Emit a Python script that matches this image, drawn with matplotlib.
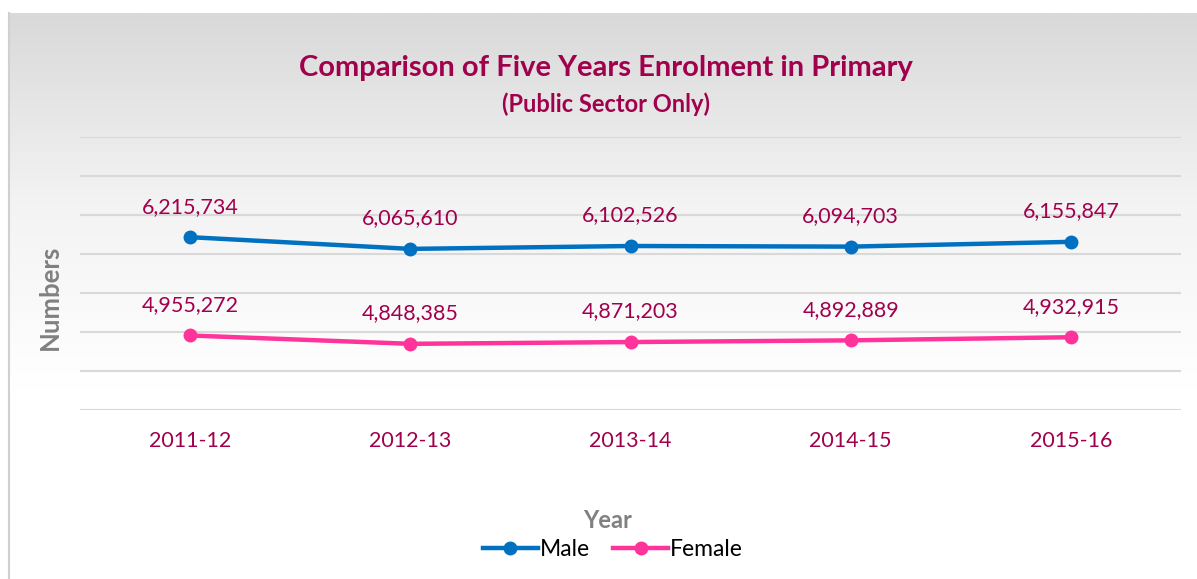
import numpy as np
import matplotlib
matplotlib.use("Agg")
import matplotlib.pyplot as plt
from matplotlib.colors import LinearSegmentedColormap

# data
years = ["2011-12", "2012-13", "2013-14", "2014-15", "2015-16"]
male = [6215734, 6065610, 6102526, 6094703, 6155847]
female = [4955272, 4848385, 4871203, 4892889, 4932915]

W, H = 1197, 579
label_color = "#A0004C"
plt.rcParams["font.family"] = ["Lato", "DejaVu Sans"]

fig = plt.figure(figsize=(W / 100, H / 100), dpi=100)
fig.patch.set_facecolor("white")

# chart area background with vertical gradient (grey at top -> white)
bg = fig.add_axes([9 / W, 0, 1 - 9 / W, 1 - 13 / H], zorder=0)
cmap = LinearSegmentedColormap.from_list("bg", ["#d9d9d9", "#f3f3f3", "#ffffff", "#ffffff"])
grad = np.linspace(0, 1, 256).reshape(-1, 1)
bg.imshow(grad, aspect="auto", cmap=cmap, extent=[0, 1, 0, 1], origin="upper")
bg.set_xlim(0, 1)
bg.set_ylim(0, 1)
bg.set_xticks([])
bg.set_yticks([])
for s in ["top", "right", "bottom"]:
    bg.spines[s].set_visible(False)
bg.spines["left"].set_color("#d0d0d0")
bg.spines["left"].set_linewidth(1.5)

# plot area
ax = fig.add_axes([80 / W, 1 - 410 / H, 1101 / W, 273 / H], zorder=1)
ax.set_facecolor("none")
x = np.arange(len(years))

ax.plot(x, male, color="#0070C0", lw=3.2, marker="o", ms=9, label="Male", zorder=3)
ax.plot(x, female, color="#FF3399", lw=3.2, marker="o", ms=9, label="Female", zorder=3)

for xi, v in zip(x, male):
    ax.annotate(f"{v:,}", (xi, v), xytext=(0, 22), textcoords="offset points",
                ha="center", va="center", fontsize=15.5, color=label_color)
for xi, v in zip(x, female):
    ax.annotate(f"{v:,}", (xi, v), xytext=(0, 22), textcoords="offset points",
                ha="center", va="center", fontsize=15.5, color=label_color)

ax.set_xlim(-0.5, len(years) - 0.5)
ax.set_ylim(4000000, 7500000)
ax.set_yticks(np.arange(4000000, 7500001, 500000))
ax.set_yticklabels([])
ax.tick_params(axis="y", length=0)
ax.grid(axis="y", color="#d9d9d9", lw=1.5)
ax.set_axisbelow(True)
ax.set_xticks(x)
ax.set_xticklabels(years, fontsize=15.5, color=label_color)
ax.tick_params(axis="x", length=0, pad=15)
for s in ax.spines.values():
    s.set_visible(False)

fig.text(606 / W, 1 - 68 / H, "Comparison of Five Years Enrolment in Primary",
         ha="center", va="center", fontsize=21, fontweight="bold", color=label_color)
fig.text(606 / W, 1 - 104 / H, "(Public Sector Only)",
         ha="center", va="center", fontsize=17, fontweight="bold", color=label_color)
fig.text(50 / W, 1 - 297 / H, "Numbers", rotation=90, ha="center", va="center",
         fontsize=18.5, fontweight="bold", color="#808080")
fig.text(608 / W, 1 - 520 / H, "Year", ha="center", va="center",
         fontsize=17, fontweight="bold", color="#808080")

fig.legend(loc="center", bbox_to_anchor=(613 / W, 1 - 550 / H), ncol=2, frameon=False,
           fontsize=16.5, handlelength=2.4, handletextpad=0.1, columnspacing=1.0)

fig.savefig("out.png", dpi=100)
